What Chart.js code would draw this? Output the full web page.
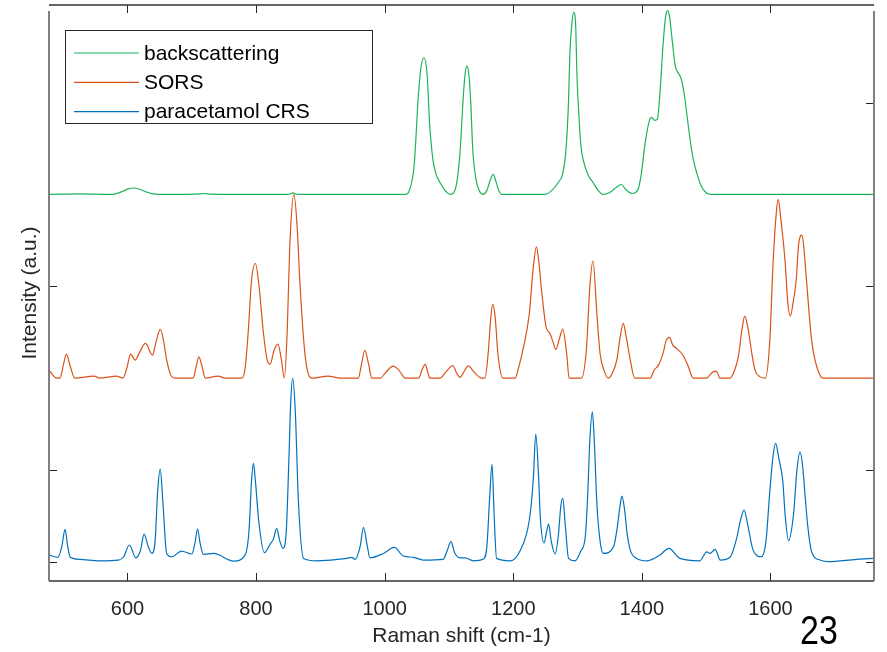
<!DOCTYPE html>
<html>
<head>
<meta charset="utf-8">
<script src="https://cdn.jsdelivr.net/npm/chart.js@4.4.1/dist/chart.umd.min.js"></script>
<style>
  body { margin: 0; background: #fff; }
</style>
</head>
<body>
<canvas id="chart" width="887" height="652"></canvas>
<script>
// Raman shift (cm-1) / normalised intensity
var backX = [478, 526, 573, 581, 592, 601, 610, 620, 629, 640, 666, 713, 721, 728, 791, 850, 857, 865, 915, 977, 1032, 1039, 1046, 1052, 1056, 1061, 1066, 1070, 1075, 1080, 1086, 1094, 1102, 1111, 1117, 1122, 1125, 1128, 1131, 1134, 1137, 1142, 1147, 1153, 1159, 1164, 1169, 1173, 1178, 1182, 1210, 1249, 1260, 1270, 1277, 1282, 1286, 1288, 1291, 1294, 1297, 1299, 1302, 1305, 1309, 1316, 1324, 1332, 1340, 1350, 1360, 1368, 1375, 1385, 1394, 1399, 1405, 1411, 1415, 1420, 1424, 1428, 1433, 1437, 1440, 1443, 1447, 1452, 1456, 1461, 1466, 1470, 1475, 1480, 1486, 1492, 1498, 1506, 1568, 1646, 1761];
var backY = [0, 0.003, 0, 0.003, 0.016, 0.030, 0.035, 0.027, 0.014, 0.003, 0, 0.003, 0.005, 0.002, 0, 0, 0.008, 0, 0, 0, 0, 0.027, 0.163, 0.517, 0.680, 0.744, 0.653, 0.381, 0.191, 0.109, 0.065, 0.022, 0, 0.044, 0.218, 0.517, 0.653, 0.698, 0.653, 0.490, 0.245, 0.082, 0.022, 0, 0.022, 0.076, 0.109, 0.071, 0.016, 0, 0, 0, 0.022, 0.065, 0.114, 0.245, 0.512, 0.762, 0.925, 0.991, 0.925, 0.653, 0.435, 0.272, 0.185, 0.109, 0.065, 0.022, 0, 0.011, 0.038, 0.054, 0.027, 0.005, 0.027, 0.109, 0.278, 0.392, 0.419, 0.403, 0.408, 0.544, 0.817, 0.969, 1.0, 0.969, 0.844, 0.697, 0.664, 0.631, 0.544, 0.435, 0.299, 0.191, 0.109, 0.049, 0.016, 0, 0, 0, 0];

var sorsX = [478, 490, 495, 500, 505, 511, 518, 548, 557, 583, 593, 599, 605, 612, 619, 628, 639, 644, 651, 656, 661, 669, 675, 702, 707, 711, 716, 721, 741, 752, 778, 783, 788, 793, 799, 805, 811, 818, 822, 828, 834, 839, 844, 848, 853, 859, 864, 868, 875, 881, 887, 912, 931, 959, 964, 969, 975, 980, 993, 1002, 1013, 1022, 1032, 1053, 1058, 1063, 1067, 1070, 1086, 1095, 1106, 1112, 1117, 1123, 1130, 1139, 1151, 1156, 1161, 1165, 1168, 1172, 1176, 1184, 1203, 1208, 1216, 1225, 1231, 1236, 1240, 1244, 1251, 1257, 1262, 1266, 1272, 1277, 1283, 1287, 1306, 1314, 1319, 1324, 1330, 1335, 1341, 1348, 1354, 1361, 1366, 1371, 1376, 1382, 1389, 1413, 1419, 1426, 1433, 1438, 1443, 1448, 1454, 1464, 1472, 1480, 1501, 1508, 1514, 1518, 1521, 1537, 1543, 1550, 1556, 1560, 1565, 1571, 1576, 1584, 1592, 1599, 1604, 1609, 1612, 1616, 1623, 1627, 1631, 1635, 1640, 1644, 1649, 1652, 1656, 1664, 1672, 1682, 1761];
var sorsY = [0.044, 0, 0, 0.065, 0.131, 0.065, 0, 0.011, 0, 0.011, 0, 0.054, 0.131, 0.098, 0.142, 0.189, 0.125, 0.191, 0.265, 0.207, 0.098, 0.007, 0, 0, 0.065, 0.116, 0.065, 0, 0.011, 0, 0, 0.054, 0.261, 0.533, 0.624, 0.490, 0.261, 0.089, 0.076, 0.152, 0.185, 0.109, 0, 0.218, 0.762, 1.0, 0.817, 0.533, 0.169, 0.026, 0, 0.011, 0, 0, 0.076, 0.152, 0.076, 0, 0, 0.033, 0.065, 0.044, 0, 0, 0.044, 0.075, 0.033, 0, 0, 0.033, 0.069, 0.027, 0.004, 0.033, 0.067, 0.033, 0, 0, 0.136, 0.327, 0.403, 0.327, 0.136, 0, 0, 0.053, 0.170, 0.352, 0.599, 0.715, 0.626, 0.479, 0.279, 0.243, 0.196, 0.156, 0.218, 0.267, 0.134, 0, 0, 0.169, 0.495, 0.639, 0.352, 0.134, 0.044, 0, 0.027, 0.098, 0.218, 0.298, 0.218, 0.098, 0, 0, 0.044, 0.071, 0.136, 0.207, 0.222, 0.180, 0.162, 0.125, 0.065, 0, 0, 0.027, 0.038, 0.027, 0, 0, 0.033, 0.116, 0.272, 0.338, 0.272, 0.134, 0.044, 0.007, 0, 0.207, 0.624, 0.898, 0.973, 0.871, 0.624, 0.408, 0.338, 0.408, 0.533, 0.735, 0.778, 0.708, 0.533, 0.207, 0.062, 0, 0];

var crsX = [478, 492, 498, 503, 507, 511, 526, 557, 586, 594, 603, 613, 620, 626, 632, 638, 643, 647, 651, 655, 661, 669, 684, 700, 705, 709, 713, 718, 734, 765, 783, 789, 793, 796, 799, 804, 813, 822, 827, 832, 837, 842, 847, 851, 854, 857, 861, 866, 874, 894, 941, 949, 954, 962, 967, 973, 977, 998, 1015, 1029, 1045, 1060, 1091, 1097, 1103, 1109, 1117, 1125, 1138, 1153, 1159, 1163, 1167, 1170, 1174, 1195, 1211, 1225, 1231, 1235, 1239, 1242, 1248, 1252, 1255, 1259, 1265, 1270, 1274, 1277, 1281, 1286, 1296, 1305, 1312, 1316, 1319, 1323, 1326, 1330, 1335, 1340, 1356, 1362, 1366, 1369, 1373, 1377, 1382, 1392, 1408, 1428, 1442, 1459, 1490, 1501, 1506, 1514, 1522, 1537, 1548, 1553, 1559, 1565, 1573, 1586, 1593, 1599, 1604, 1608, 1613, 1619, 1623, 1628, 1636, 1641, 1646, 1650, 1654, 1658, 1664, 1677, 1690, 1734, 1761];
var crsY = [0.087, 0.075, 0.136, 0.227, 0.136, 0.075, 0.064, 0.056, 0.060, 0.078, 0.142, 0.072, 0.109, 0.201, 0.136, 0.096, 0.163, 0.435, 0.555, 0.381, 0.096, 0.078, 0.109, 0.093, 0.152, 0.229, 0.152, 0.091, 0.096, 0.054, 0.087, 0.218, 0.490, 0.586, 0.490, 0.278, 0.100, 0.147, 0.174, 0.232, 0.163, 0.124, 0.218, 0.599, 0.925, 1.049, 0.871, 0.369, 0.069, 0.056, 0.069, 0.075, 0.064, 0.136, 0.238, 0.136, 0.072, 0.096, 0.129, 0.082, 0.075, 0.060, 0.064, 0.109, 0.160, 0.098, 0.072, 0.072, 0.056, 0.064, 0.136, 0.381, 0.581, 0.327, 0.069, 0.056, 0.114, 0.278, 0.490, 0.746, 0.544, 0.296, 0.154, 0.218, 0.256, 0.163, 0.093, 0.191, 0.354, 0.396, 0.245, 0.069, 0.056, 0.109, 0.187, 0.435, 0.708, 0.867, 0.708, 0.369, 0.163, 0.096, 0.132, 0.245, 0.354, 0.408, 0.338, 0.207, 0.114, 0.069, 0.056, 0.087, 0.124, 0.069, 0.056, 0.105, 0.096, 0.118, 0.060, 0.075, 0.187, 0.272, 0.332, 0.245, 0.114, 0.078, 0.163, 0.435, 0.626, 0.695, 0.613, 0.495, 0.299, 0.165, 0.314, 0.544, 0.649, 0.572, 0.404, 0.245, 0.105, 0.060, 0.051, 0.064, 0.069];

// vertical stacking offsets (backscattering, SORS, CRS)
var offsets = [1.5, 0.5, -0.55];
var seriesNames = ['backscattering', 'SORS', 'paracetamol CRS'];
var seriesColors = ['#1cb35c', '#d95319', '#0072bd'];

var xTicks = [600, 800, 1000, 1200, 1400, 1600];
var yTicksLeft = [-0.5, 0, 1];
var yTicksRight = [-0.5, 0, 1, 2];
var slideNo = '23';

var FONT = '"Liberation Sans", Arial, Helvetica, sans-serif';
var INK = '#262626';

function toPoints(xs, ys, off) {
    return xs.map(function (x, i) { return { x: x, y: ys[i] + off }; });
}

var frame = {
    id: 'frame',
    afterDatasetsDraw: function (chart) {
        var ctx = chart.ctx, a = chart.chartArea;
        var sx = chart.scales.x, sy = chart.scales.y;
        ctx.save();

        // inward tick marks
        ctx.strokeStyle = INK;
        ctx.lineWidth = 1;
        ctx.beginPath();
        xTicks.forEach(function (t) {
            var px = Math.round(sx.getPixelForValue(t)) + 0.5;
            ctx.moveTo(px, a.bottom); ctx.lineTo(px, a.bottom - 8);
            ctx.moveTo(px, a.top); ctx.lineTo(px, a.top + 8);
        });
        yTicksLeft.forEach(function (t) {
            var py = Math.round(sy.getPixelForValue(t)) + 0.5;
            ctx.moveTo(a.left, py); ctx.lineTo(a.left + 8, py);
        });
        yTicksRight.forEach(function (t) {
            var py = Math.round(sy.getPixelForValue(t)) + 0.5;
            ctx.moveTo(a.right, py); ctx.lineTo(a.right - 8, py);
        });
        ctx.stroke();

        // box
        ctx.lineWidth = 1.5;
        ctx.strokeStyle = '#333';
        ctx.beginPath();
        ctx.moveTo(a.left, a.top); ctx.lineTo(a.right, a.top);
        ctx.moveTo(a.left, a.bottom); ctx.lineTo(a.right, a.bottom);
        ctx.stroke();
        ctx.lineWidth = 2;
        ctx.strokeStyle = '#808080';
        ctx.beginPath();
        ctx.moveTo(a.left, a.top + 6); ctx.lineTo(a.left, a.bottom);
        ctx.moveTo(a.right, a.top + 6); ctx.lineTo(a.right, a.bottom);
        ctx.stroke();

        // legend box
        ctx.fillStyle = '#fff';
        ctx.fillRect(65.5, 30.5, 307, 93);
        ctx.lineWidth = 1;
        ctx.strokeStyle = INK;
        ctx.strokeRect(65.5, 30.5, 307, 93);
        ctx.font = '21px ' + FONT;
        ctx.textBaseline = 'middle';
        ctx.textAlign = 'left';
        chart.data.datasets.forEach(function (ds, i) {
            var y = 53 + i * 29.3;
            ctx.strokeStyle = ds.borderColor;
            ctx.lineWidth = 1.2;
            ctx.beginPath();
            ctx.moveTo(74, y); ctx.lineTo(139, y);
            ctx.stroke();
            ctx.fillStyle = '#000';
            ctx.fillText(ds.label, 144, y + 1);
        });

        // slide number
        ctx.fillStyle = '#000';
        ctx.font = '40px ' + FONT;
        ctx.textAlign = 'center';
        ctx.textBaseline = 'middle';
        ctx.translate(819, 633);
        ctx.scale(0.85, 1);
        ctx.fillText(slideNo, 0, 0);
        ctx.restore();
    }
};

var ctx = document.getElementById('chart').getContext('2d');
var chart = new Chart(ctx, {
    type: 'line',
    data: {
        datasets: [
            { label: seriesNames[0], data: toPoints(backX, backY, offsets[0]), borderColor: seriesColors[0] },
            { label: seriesNames[1], data: toPoints(sorsX, sorsY, offsets[1]), borderColor: seriesColors[1] },
            { label: seriesNames[2], data: toPoints(crsX, crsY, offsets[2]), borderColor: seriesColors[2] }
        ]
    },
    options: {
        responsive: false,
        animation: false,
        layout: { padding: { top: 5, right: 13, left: 0, bottom: 0 } },
        elements: {
            point: { radius: 0 },
            line: { borderWidth: 1.2, cubicInterpolationMode: 'monotone', fill: false }
        },
        plugins: {
            legend: { display: false },
            tooltip: { enabled: false }
        },
        scales: {
            x: {
                type: 'linear',
                min: 478,
                max: 1761,
                afterBuildTicks: function (s) { s.ticks = xTicks.map(function (v) { return { value: v }; }); },
                afterFit: function (s) { s.height = 71; },
                grid: { display: false, drawTicks: false },
                border: { display: false },
                ticks: {
                    color: INK, padding: 16, maxRotation: 0, font: { family: FONT, size: 20 },
                    callback: function (v) { return String(v); }
                },
                title: { display: true, text: 'Raman shift (cm-1)', color: INK, padding: { top: 0, bottom: 3 }, font: { family: FONT, size: 21 } }
            },
            y: {
                min: -0.604,
                max: 2.531,
                afterFit: function (s) { s.width = 49; },
                grid: { display: false, drawTicks: false },
                border: { display: false },
                ticks: { display: false },
                title: { display: true, text: 'Intensity (a.u.)', color: INK, padding: { top: 18, bottom: 0 }, font: { family: FONT, size: 21 } }
            }
        }
    },
    plugins: [frame]
});
</script>
</body>
</html>
